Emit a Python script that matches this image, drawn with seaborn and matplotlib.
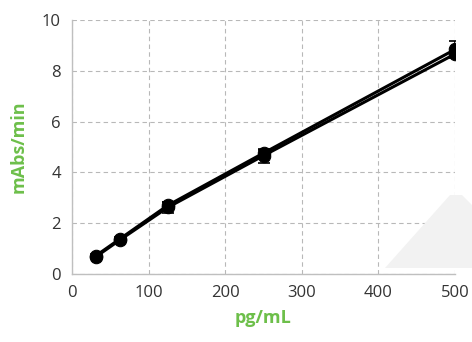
import matplotlib
matplotlib.use("Agg")
import matplotlib.pyplot as plt
import seaborn as sns
import pandas as pd
from matplotlib.patches import Polygon

conc = [31.25, 62.5, 125, 250, 500]
series_a = [0.72, 1.38, 2.70, 4.76, 8.84]
series_b = [0.68, 1.34, 2.62, 4.66, 8.66]
err_a = [0.05, 0.06, 0.12, 0.12, 0.35]
err_b = [0.05, 0.06, 0.22, 0.28, 0.10]
x_ticks = [0, 100, 200, 300, 400, 500]
y_ticks = [0, 2, 4, 6, 8, 10]

sns.set_theme(style="white")
plt.rcParams['font.family'] = ['Open Sans', 'DejaVu Sans']

df = pd.DataFrame({
    "conc": conc * 2,
    "val": series_a + series_b,
    "series": ["A"] * len(conc) + ["B"] * len(conc),
})

fig = plt.figure(figsize=(4.72, 3.42), dpi=100)
ax = fig.add_axes([72/472, 1-274/342, (455-72)/472, (274-20)/342])
ax.set_facecolor("none")

# background watermark shape
pts = [(385, 268), (450, 195), (462, 195), (472, 205), (472, 268)]
poly = Polygon([(x/472, 1 - y/342) for x, y in pts], closed=True,
               transform=fig.transFigure, facecolor="#f2f2f2", edgecolor="none", zorder=0)
fig.patches.append(poly)

for vals, errs in [(series_a, err_a), (series_b, err_b)]:
    ax.errorbar(conc, vals, yerr=errs, fmt="none", ecolor="black", elinewidth=1.2,
                capsize=4, capthick=1.2, zorder=2)

sns.lineplot(data=df, x="conc", y="val", hue="series", palette=["black", "black"],
             marker="o", markersize=9, linewidth=2.2, markeredgecolor="black",
             legend=False, ax=ax, zorder=3)

ax.set_xlim(0, 500)
ax.set_ylim(0, 10)
ax.set_xticks(x_ticks)
ax.set_yticks(y_ticks)
ax.grid(True, color="#b8b8b8", linestyle=(0, (4, 3)), linewidth=0.8)
for s in ["top", "right"]:
    ax.spines[s].set_visible(False)
for s in ["left", "bottom"]:
    ax.spines[s].set_color("#bfbfbf")
    ax.spines[s].set_linewidth(1.0)
ax.tick_params(axis="both", labelsize=12, colors="#333333", length=0, pad=8)

green = "#6dbf4a"
ax.set_xlabel("pg/mL", color=green, fontsize=13, fontweight="bold", labelpad=6)
ax.set_ylabel("mAbs/min", color=green, fontsize=13, fontweight="bold", labelpad=10)

fig.savefig("out.png", dpi=100)
